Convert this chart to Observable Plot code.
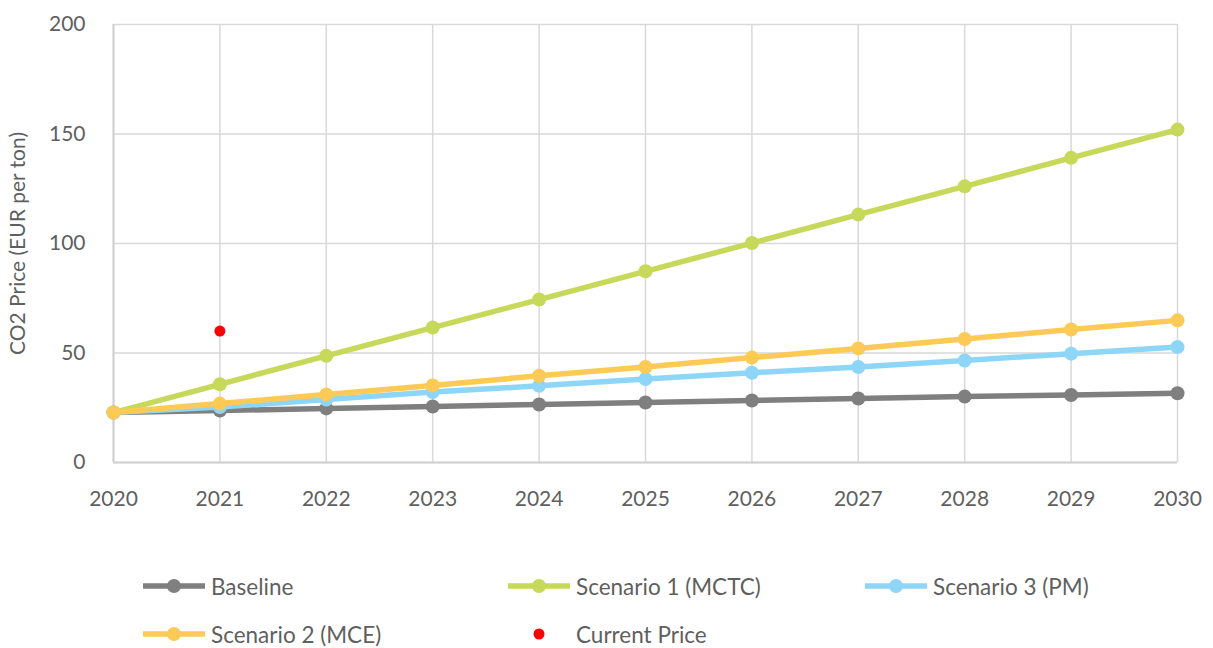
<!DOCTYPE html>
<html>
<head>
<meta charset="utf-8">
<script src="https://cdn.jsdelivr.net/npm/d3@7"></script>
<script src="https://cdn.jsdelivr.net/npm/@observablehq/plot@0.6"></script>
<style>
  body { margin: 0; background: #fff; font-family: Lato, "Noto Sans", sans-serif; }
  #wrap { position: relative; width: 1213px; height: 648px; }
  #legend { position: absolute; left: 0; top: 0; width: 1213px; height: 648px; pointer-events: none; }
  .item { position: absolute; display: flex; align-items: center; font-size: 22.5px; color: #5f5f5f; height: 24px; white-space: nowrap; }
  .item svg { margin-right: 6px; flex: none; }
</style>
</head>
<body>
<div id="wrap">
  <div id="chart"></div>
  <div id="legend"></div>
</div>
<script>
const years = [2020, 2021, 2022, 2023, 2024, 2025, 2026, 2027, 2028, 2029, 2030];
const baseline  = [22.8, 23.7, 24.7, 25.6, 26.5, 27.4, 28.3, 29.2, 30.1, 30.8, 31.6];
const scenario1 = [22.8, 35.7, 48.7, 61.6, 74.4, 87.3, 100.2, 113.2, 126.1, 139.1, 152.0];
const scenario2 = [22.8, 26.9, 31.1, 35.2, 39.6, 43.6, 47.9, 52.1, 56.4, 60.7, 64.9];
const scenario3 = [22.8, 25.3, 28.8, 32.2, 35.0, 38.1, 41.0, 43.6, 46.6, 49.7, 52.7];
const currentPriceYear = [2021];
const currentPrice = [60];
const seriesNames = ["Baseline", "Scenario 1 (MCTC)", "Scenario 3 (PM)", "Scenario 2 (MCE)"];
const seriesValues = [baseline, scenario1, scenario3, scenario2];
const seriesColors = ["#7f7f7f", "#c6d95a", "#8ed6f7", "#fdca55"];
const yTicks = [0, 50, 100, 150, 200];

const rows = [];
seriesNames.forEach((name, i) => {
  years.forEach((yr, j) => rows.push({series: name, year: yr, value: seriesValues[i][j]}));
});
const current = currentPriceYear.map((yr, i) => ({year: yr, value: currentPrice[i]}));

const marks = [
  Plot.gridX(years, {stroke: "#d9d9d9", strokeOpacity: 1, strokeWidth: 1.5}),
  Plot.gridY(yTicks, {stroke: "#d9d9d9", strokeOpacity: 1, strokeWidth: 1.5}),
  Plot.ruleX([2020], {stroke: "#d0d0d0", strokeWidth: 2}),
  Plot.ruleY([0], {stroke: "#d0d0d0", strokeWidth: 2}),
];
seriesNames.forEach((name, i) => {
  const d = rows.filter(r => r.series === name);
  marks.push(Plot.line(d, {x: "year", y: "value", stroke: seriesColors[i], strokeWidth: 5.5}));
  marks.push(Plot.dot(d, {x: "year", y: "value", r: 7, fill: seriesColors[i]}));
});
marks.push(Plot.dot(current, {x: "year", y: "value", r: 5.5, fill: "#ff0000"}));
marks.push(Plot.axisX({ticks: years, tickFormat: d3.format("d"), tickSize: 0, tickPadding: 29, fontSize: 21, label: null}));
marks.push(Plot.axisY({ticks: yTicks, tickSize: 0, tickPadding: 28, fontSize: 21, label: null}));
marks.push(Plot.text(["CO2 Price (EUR per ton)"], {frameAnchor: "left", textAnchor: "middle", dx: -95, rotate: -90, fontSize: 21, fill: "#5f5f5f"}));

const chart = Plot.plot({
  width: 1213,
  height: 530,
  marginLeft: 113,
  marginRight: 36,
  marginTop: 24,
  marginBottom: 68,
  style: {fontFamily: "Lato, 'Noto Sans', sans-serif", color: "#5f5f5f", background: "#fff", overflow: "visible"},
  x: {domain: [2020, 2030]},
  y: {domain: [0, 200]},
  marks
});
document.getElementById("chart").appendChild(chart);

// Legend
const legendItems = [
  {label: "Baseline", color: "#7f7f7f", type: "line", x: 143, y: 586, w: 62},
  {label: "Scenario 1 (MCTC)", color: "#c6d95a", type: "line", x: 508, y: 586, w: 62},
  {label: "Scenario 3 (PM)", color: "#8ed6f7", type: "line", x: 865, y: 586, w: 62},
  {label: "Scenario 2 (MCE)", color: "#fdca55", type: "line", x: 143, y: 634, w: 62},
  {label: "Current Price", color: "#ff0000", type: "dot", x: 508, y: 634, w: 62},
];
const legend = document.getElementById("legend");
legendItems.forEach(it => {
  const div = document.createElement("div");
  div.className = "item";
  div.style.left = it.x + "px";
  div.style.top = (it.y - 12) + "px";
  const sw = it.w;
  let svg;
  if (it.type === "line") {
    svg = `<svg width="${sw}" height="24"><line x1="0" x2="${sw}" y1="12" y2="12" stroke="${it.color}" stroke-width="5.5"/><circle cx="${sw/2}" cy="12" r="7" fill="${it.color}"/></svg>`;
  } else {
    svg = `<svg width="${sw}" height="24"><circle cx="${sw/2}" cy="12" r="5.5" fill="${it.color}"/></svg>`;
  }
  div.innerHTML = svg + `<span>${it.label}</span>`;
  legend.appendChild(div);
});
</script>
</body>
</html>
